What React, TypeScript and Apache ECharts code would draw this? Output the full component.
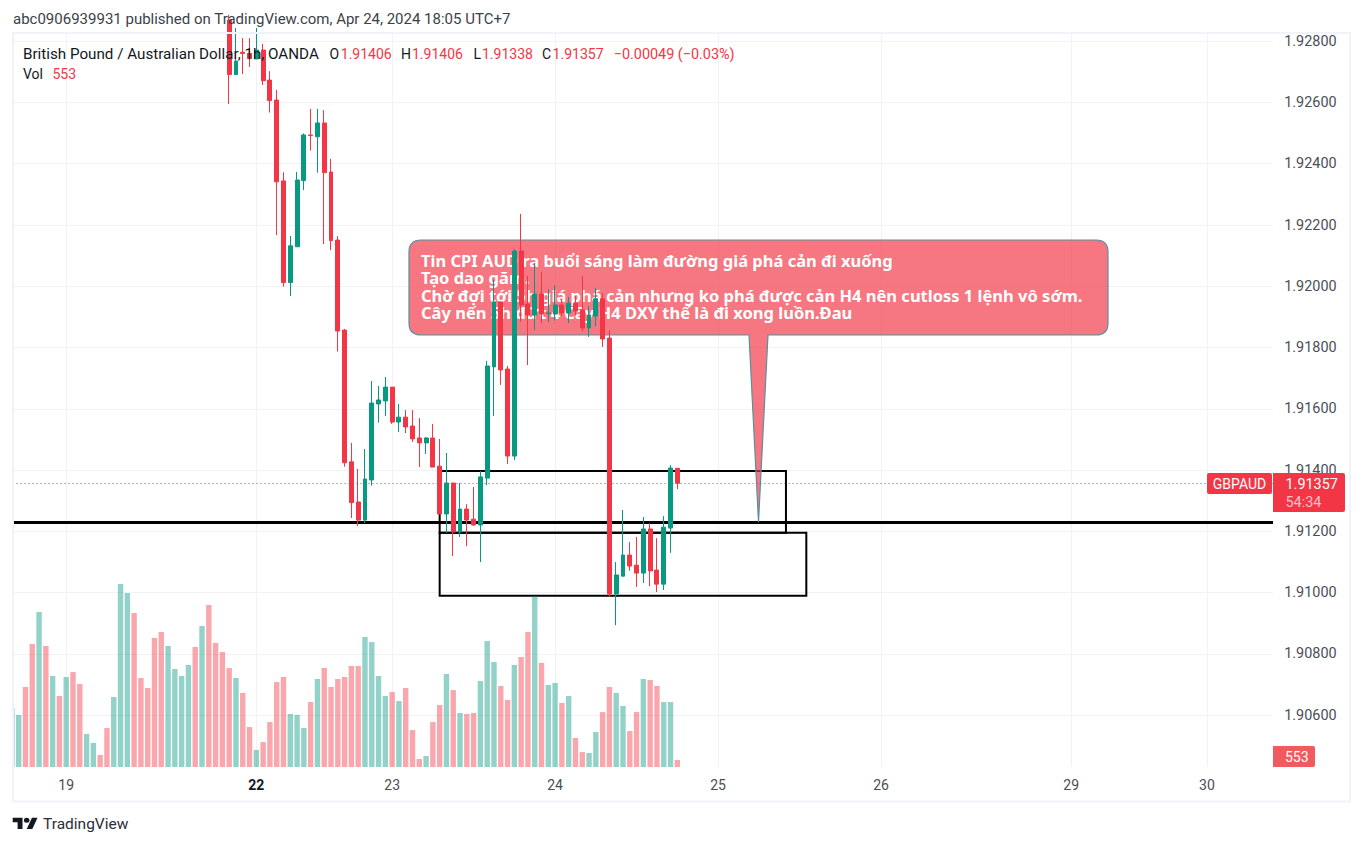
import React, { useEffect, useRef } from "react";
import * as echarts from "echarts";

const UP = "#089981";
const DOWN = "#F23645";
const NONE = null;

// one hourly bar per entry; the first bars sit above the visible price range
const opens = [NONE,NONE,NONE,NONE,NONE,NONE,NONE,NONE,NONE,NONE,NONE,NONE,NONE,NONE,NONE,NONE,NONE,NONE,NONE,NONE,NONE,NONE,NONE,NONE,NONE,NONE,NONE,NONE,NONE,NONE,NONE,NONE,
  1.92869,1.92691,1.92764,1.9276,1.92742,1.92771,1.92673,1.92608,1.92344,1.92012,1.92129,1.92345,1.92494,1.92488,1.92533,1.92373,1.92151,1.91857,1.91427,1.91296,1.91237,1.91368,1.91616,1.91626,1.91671,1.91557,1.91573,1.91544,1.91505,1.91489,1.91505,1.91413,1.91257,1.91358,1.91198,1.91273,1.9124,1.91221,1.91374,1.91737,1.91949,1.9173,1.91446,1.92115,1.91942,1.91906,1.91975,1.91911,1.9191,1.91939,1.91913,1.91945,1.91923,1.91864,1.91903,1.91959,1.91831,1.90996,1.91054,1.91123,1.9109,1.91064,1.91208,1.91074,1.91028,1.91211,1.91406];
const closes = [NONE,NONE,NONE,NONE,NONE,NONE,NONE,NONE,NONE,NONE,NONE,NONE,NONE,NONE,NONE,NONE,NONE,NONE,NONE,NONE,NONE,NONE,NONE,NONE,NONE,NONE,NONE,NONE,NONE,NONE,NONE,NONE,
  1.92691,1.92735,1.9276,1.92743,1.92771,1.92671,1.92606,1.92341,1.92012,1.92132,1.92347,1.92494,1.92492,1.92533,1.92371,1.92149,1.91854,1.91424,1.91294,1.91237,1.91371,1.91619,1.91629,1.91671,1.91557,1.91573,1.91541,1.91502,1.91489,1.91505,1.9141,1.91257,1.91358,1.91198,1.91273,1.91237,1.91221,1.91378,1.9174,1.91949,1.91727,1.91446,1.92115,1.91939,1.91906,1.91975,1.9191,1.91913,1.91939,1.91913,1.91945,1.91919,1.91864,1.91906,1.91959,1.91828,1.90996,1.91058,1.91123,1.91087,1.91064,1.91208,1.91071,1.91028,1.91214,1.91407,1.91357];
const lows = [NONE,NONE,NONE,NONE,NONE,NONE,NONE,NONE,NONE,NONE,NONE,NONE,NONE,NONE,NONE,NONE,NONE,NONE,NONE,NONE,NONE,NONE,NONE,NONE,NONE,NONE,NONE,NONE,NONE,NONE,NONE,NONE,
  1.92595,1.92691,1.92693,1.92716,1.92742,1.92657,1.92567,1.92167,1.91999,1.91968,1.92129,1.92314,1.92443,1.92371,1.92138,1.92118,1.91787,1.91411,1.91244,1.91218,1.91227,1.91349,1.91555,1.91577,1.91551,1.91524,1.91521,1.91492,1.9141,1.91453,1.9141,1.91257,1.91195,1.9112,1.91182,1.91152,1.91218,1.911,1.91351,1.91577,1.91678,1.9142,1.91433,1.91884,1.91743,1.91857,1.9188,1.91883,1.91888,1.91903,1.9188,1.91906,1.91854,1.91835,1.9187,1.91802,1.90987,1.90894,1.91054,1.91072,1.91019,1.91032,1.91022,1.91002,1.91009,1.9113,1.91338];
const highs = [NONE,NONE,NONE,NONE,NONE,NONE,NONE,NONE,NONE,NONE,NONE,NONE,NONE,NONE,NONE,NONE,NONE,NONE,NONE,NONE,NONE,NONE,NONE,NONE,NONE,NONE,NONE,NONE,NONE,NONE,NONE,NONE,
  1.92886,1.92843,1.9281,1.9281,1.92843,1.92791,1.92702,1.92641,1.92372,1.92164,1.92373,1.92499,1.92579,1.92579,1.92575,1.92416,1.92164,1.91861,1.91489,1.91404,1.91469,1.91691,1.91675,1.91704,1.91671,1.91616,1.91596,1.91596,1.9157,1.91508,1.91551,1.91502,1.91456,1.91358,1.91358,1.91289,1.91345,1.91397,1.91756,1.92021,1.91949,1.9174,1.92121,1.92236,1.92034,1.92076,1.92047,1.91991,1.92004,1.91955,1.91965,1.91968,1.92034,1.91936,1.91994,1.91978,1.91857,1.911,1.9127,1.91165,1.91182,1.91247,1.91227,1.91178,1.9125,1.91417,1.91406];
const volumes = [4660,4110,6320,9720,12240,9560,7190,5610,7110,7500,6560,2610,1900,950,3080,5530,14460,13750,12170,7030,6240,10190,10660,9560,7740,7190,8060,9480,11140,12800,9800,9080,7820,7030,5850,3160,1340,1970,3550,6710,7110,4190,4110,3080,5130,6950,7820,6320,6950,7110,7980,7980,10270,9870,7190,5610,5920,5210,6240,2920,630,870,3550,4900,7350,6080,4270,4190,4270,6790,9950,8290,6400,5290,8060,8690,10660,13480,8220,6480,6640,5060,5610,2290,1180,1110,2760,4340,6320,5850,4820,2840,4340,6950,6870,6400,5130,5130,553];
const volumeUp = [1,1,0,0,1,0,1,0,1,0,0,1,1,0,0,1,1,1,0,0,0,0,0,1,1,1,1,0,1,0,0,0,0,1,0,0,1,0,0,0,0,1,1,1,0,1,0,0,0,0,0,0,1,1,1,1,0,1,0,0,0,1,0,0,1,0,1,0,0,1,1,1,0,0,1,0,0,1,0,1,1,0,1,0,0,1,1,0,0,1,1,0,0,1,0,0,1,1,0];

const SLOTS = 187;
const slotLabels = Array.from({ length: SLOTS }, (_, i) => String(i));
const dayTicks = [8, 36, 56, 80, 104, 128, 156, 176];
const dayLabels = ["19", "22", "23", "24", "25", "26", "29", "30"];
const boldDay = "22";
const priceTicks = [1.906, 1.908, 1.91, 1.912, 1.914, 1.916, 1.918, 1.92, 1.922, 1.924, 1.926, 1.928];

const PRICE_MIN = 1.904312;
const PRICE_MAX = 1.928234;
const VOLUME_MAX = 57900;
const lastPrice = 1.91357;
const supportPrice = 1.9123;
// [first bar, top price, last bar, bottom price]
const zones = [
  [63, 1.91397, 114, 1.91196],
  [63, 1.91196, 117, 1.9099],
];

const noteLines = [
  "Tin CPI AUD ra buổi sáng làm đường giá phá cản đi xuống",
  "Tạo dao găm.",
  "Chờ đợi tới 5h giá phá cản nhưng ko phá được cản H4 nên cutloss 1 lệnh vô sớm.",
  "Cây nến 5h đứt 4 Cây H4 DXY thế là đi xong luồn.Đau",
];
const titleText = "abc0906939931 published on TradingView.com, Apr 24, 2024 18:05 UTC+7";
const symbolText = "British Pound / Australian Dollar, 1h, OANDA";
const ohlcLetters = ["O", "H", "L", "C"];
const ohlcValues = ["1.91406", "1.91406", "1.91338", "1.91357"];
const changeText = "−0.00049 (−0.03%)";

const bubblePath =
  "M421,240 H1096 Q1108,240 1108,252 V323 Q1108,335 1096,335 H768 L758.5,522 L749,335 H421 Q409,335 409,323 V252 Q409,240 421,240 Z";
const logoPath =
  "M14 22H7V11H0V4h14v18zM28 22h-8l7.5-18h8L28 22zM24 8a4 4 0 1 1-8 0a4 4 0 1 1 8 0z";
echarts.graphic.registerShape("noteBubble", echarts.graphic.extendPath(bubblePath, {}));
echarts.graphic.registerShape("tvLogo", echarts.graphic.extendPath(logoPath, {}));

const UI_FONT = "Roboto";
const TEXT_DARK = "#131722";
const TEXT_AXIS = "#4a4e58";
const GRID_COLOR = "#f1f2f5";

function text(x: number, y: number, t: string, fill: string, extra: any = {}) {
  return {
    type: "text",
    x,
    y,
    z: 20,
    silent: true,
    style: {
      text: t,
      fill,
      font: `14px ${UI_FONT}`,
      textAlign: "left",
      textVerticalAlign: "middle",
      ...extra,
    },
  };
}

function buildOption(): any {
  const ohlcX = [329.6, 401, 473.6, 542];
  const ohlcValueX = [340.8, 412, 482, 552.6];
  const graphics: any[] = [
    { type: "noteBubble", z: 1.5, silent: true, x: 0, y: 0,
      style: { fill: "rgba(242,54,69,0.68)", stroke: "#5b8fa0", lineWidth: 1.2 } },
    {
      type: "text", x: 421, y: 286.25, z: 1.6, silent: true,
      style: {
        text: noteLines.join("\n"), fill: "#ffffff", font: "700 16.5px 'Noto Sans'",
        lineHeight: 17.5, textAlign: "left", textVerticalAlign: "middle",
      },
    },
    { type: "rect", z: 5, silent: true, shape: { x: 0, y: 30, width: 13, height: 740 }, style: { fill: "#fff" } },
    { type: "rect", z: 5, silent: true, shape: { x: 1273, y: 30, width: 78, height: 740 }, style: { fill: "#fff" } },
    { type: "rect", z: 6, silent: true, shape: { x: 13, y: 33, width: 1337, height: 768.5 },
      style: { fill: "none", stroke: "#f0f3fa", lineWidth: 2 } },
    text(13, 19, titleText, "#3c3f48", { font: `15px ${UI_FONT}` }),
    text(23, 54, symbolText, TEXT_DARK, { font: `15.2px ${UI_FONT}` }),
    ...ohlcLetters.map((l, i) => text(ohlcX[i], 54, l, TEXT_DARK)),
    ...ohlcValues.map((v, i) => text(ohlcValueX[i], 54, v, DOWN)),
    text(613.7, 54, changeText, DOWN, { font: `14.4px ${UI_FONT}` }),
    text(23, 74, "Vol", TEXT_DARK),
    text(52.4, 74, String(volumes[volumes.length - 1]), DOWN),
    { type: "rect", z: 19, silent: true, shape: { x: 1207, y: 473, width: 65, height: 21, r: 2 }, style: { fill: DOWN } },
    text(1239.5, 484, "GBPAUD", "#ffffff", { textAlign: "center" }),
    { type: "rect", z: 19, silent: true, shape: { x: 1273, y: 473, width: 72, height: 39, r: [0, 2, 2, 0] }, style: { fill: DOWN } },
    text(1285.5, 484, lastPrice.toFixed(5), "#ffffff", { font: `14.4px ${UI_FONT}` }),
    text(1285.5, 502, "54:34", "rgba(255,255,255,0.7)", { font: `14.4px ${UI_FONT}` }),
    { type: "rect", z: 19, silent: true, shape: { x: 1273, y: 746, width: 42, height: 21, r: [0, 2, 2, 0] }, style: { fill: "#f15a5e" } },
    text(1285, 757, String(volumes[volumes.length - 1]), "#ffffff"),
    { type: "tvLogo", z: 20, silent: true, x: 12.7, y: 815.2, scaleX: 0.7, scaleY: 0.63, style: { fill: TEXT_DARK } },
    text(43, 824, "TradingView", "#2a2e39", { font: `400 15.5px ${UI_FONT}` }),
  ];

  return {
    animation: false,
    backgroundColor: "#ffffff",
    grid: { left: 8.5, top: 34, width: SLOTS * 6.79, height: 733, containLabel: false },
    xAxis: {
      type: "category",
      data: slotLabels,
      boundaryGap: true,
      axisLine: { show: false },
      axisTick: { show: false, customValues: dayTicks, alignWithLabel: true },
      splitLine: { show: true, alignWithLabel: true, lineStyle: { color: GRID_COLOR, width: 1 } },
      axisLabel: {
        customValues: dayTicks,
        margin: 11,
        fontFamily: UI_FONT,
        fontSize: 14,
        color: TEXT_AXIS,
        formatter: (v: string) => {
          const day = dayLabels[dayTicks.indexOf(Number(v))];
          return day === boldDay ? `{b|${day}}` : day;
        },
        rich: { b: { fontFamily: UI_FONT, fontSize: 14, fontWeight: 700, color: TEXT_DARK } },
      },
    },
    yAxis: [
      {
        type: "value", position: "right", min: PRICE_MIN, max: PRICE_MAX, scale: true,
        axisLine: { show: false }, axisLabel: { show: false },
        axisTick: { show: false, customValues: priceTicks },
        splitLine: { show: true, lineStyle: { color: GRID_COLOR, width: 1 } },
      },
      { type: "value", show: false, min: 0, max: VOLUME_MAX, splitLine: { show: false } },
      {
        type: "value", position: "right", min: PRICE_MIN, max: PRICE_MAX, scale: true, z: 10,
        axisLine: { show: false }, splitLine: { show: false },
        axisTick: { show: false, customValues: priceTicks },
        axisLabel: {
          customValues: priceTicks, margin: 6, fontFamily: UI_FONT, fontSize: 14.4, color: TEXT_AXIS,
          padding: [3, 0, 0, 0],
          formatter: (v: number) => v.toFixed(5),
        },
      },
    ],
    series: [
      {
        type: "custom",
        name: "zones",
        z: 1,
        coordinateSystem: "cartesian2d",
        clip: true,
        encode: { x: [0, 2], y: [1, 3] },
        data: zones,
        renderItem: (_: any, api: any) => {
          const a = api.coord([api.value(0), api.value(1)]);
          const b = api.coord([api.value(2), api.value(3)]);
          return {
            type: "rect",
            shape: { x: a[0], y: a[1], width: b[0] - a[0], height: b[1] - a[1] },
            style: { fill: "none", stroke: "#000000", lineWidth: 2 },
          };
        },
        markLine: {
          silent: true,
          symbol: "none",
          precision: 5,
          z: 1,
          label: { show: false },
          data: [
            { yAxis: supportPrice, lineStyle: { color: "#000000", width: 3, type: "solid" } },
            { yAxis: lastPrice, lineStyle: { color: DOWN, width: 1, type: [1, 3] } },
          ],
        },
      },
      {
        type: "bar",
        name: "Vol",
        yAxisIndex: 1,
        z: 2,
        barWidth: 5.4,
        data: volumes.map((v, i) => ({
          value: v,
          itemStyle: { color: volumeUp[i] ? "rgba(8,153,129,0.44)" : "rgba(242,54,69,0.44)" },
        })),
      },
      {
        type: "candlestick",
        name: "GBPAUD",
        z: 3,
        barWidth: 4.4,
        itemStyle: { color: UP, color0: DOWN, borderColor: UP, borderColor0: DOWN, borderWidth: 1 },
        data: opens.map((o, i) => (o === null ? ["-", "-", "-", "-"] : [o, closes[i], lows[i], highs[i]])),
      },
    ],
    graphic: graphics,
  };
}

export default function App() {
  const ref = useRef<HTMLDivElement>(null);
  useEffect(() => {
    const chart = echarts.init(ref.current!, undefined, { renderer: "svg" });
    chart.setOption(buildOption());
    return () => chart.dispose();
  }, []);
  return (
    <div
      ref={ref}
      style={{ position: "absolute", left: 0, top: 0, width: 1363, height: 846, background: "#fff" }}
    />
  );
}
